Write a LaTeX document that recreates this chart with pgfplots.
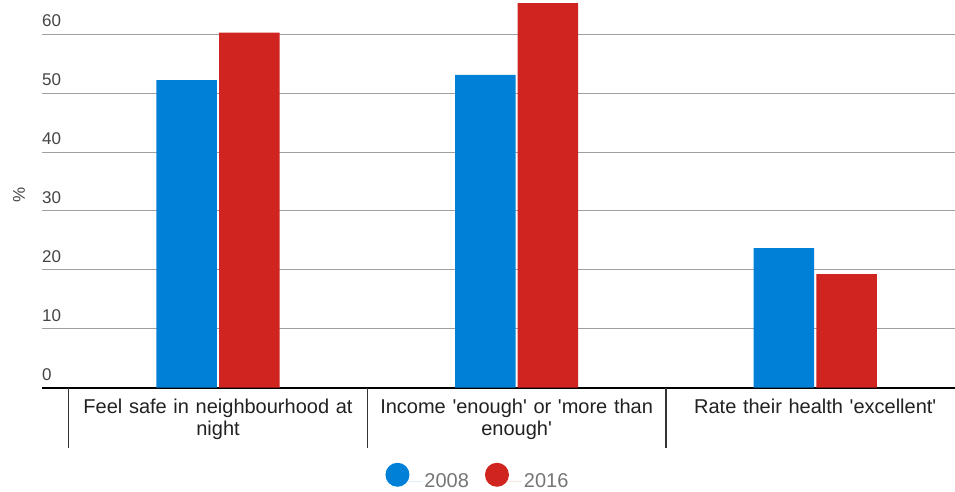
\documentclass[border=0pt]{standalone}
\usepackage{fontspec}
\setmainfont{Liberation Sans}
\usepackage{pgfplots}
\pgfplotsset{compat=1.18}
\definecolor{cblue}{HTML}{0080D6}
\definecolor{cred}{HTML}{D02420}
\definecolor{gridc}{HTML}{A0A0A0}
\definecolor{tickc}{HTML}{444444}
\definecolor{legc}{HTML}{757575}
\begin{document}
\begin{tikzpicture}
\path[use as bounding box] (-42pt,-103.3pt) rectangle (913pt,387.7pt);
\begin{axis}[
  scale only axis, width=913pt, height=387.7pt,
  clip=false,
  xmin=-0.5894, xmax=2.468, ymin=0, ymax=65.82,
  ybar, bar width=60.5pt,
  axis x line*=bottom, axis y line*=left,
  x axis line style={line width=2.2pt, black},
  y axis line style={draw=none},
  xtick={0,1,2},
  xticklabels={{Feel safe in neighbourhood at\\night},{Income \textquotesingle enough\textquotesingle\ or \textquotesingle more than\\enough\textquotesingle},{Rate their health \textquotesingle excellent\textquotesingle}},
  xticklabel style={text width=290pt, align=center, anchor=north, inner sep=0pt, yshift=-11pt, font=\fontsize{20}{22}\selectfont, text=black!87},
  ytick={0,10,...,60},
  /pgf/number format/assume math mode=true,
  yticklabel style={anchor=south west, inner sep=0pt, yshift=7pt, font=\fontsize{17}{20}\selectfont, text=tickc},
  major tick length=0pt,
  ymajorgrids, grid style={gridc, line width=1pt},
  ylabel={\%},
  ylabel style={at={(axis description cs:-0.0252,0.497)}, anchor=center, inner sep=0pt, font=\fontsize{17}{20}\selectfont, text=tickc},
  legend style={draw=none, fill=none, legend columns=-1, at={(0.4775,-0.2304)}, anchor=center, font=\fontsize{20}{22}\selectfont, text=legc, /tikz/every even column/.append style={column sep=14pt}},
  legend image code/.code={\fill[#1] (12pt,6.8pt) circle (12pt); \path (0pt,0pt) -- (37pt,0pt);},
]
\addplot[fill=cblue, draw=none, bar shift=-31.3pt] coordinates {(0,52.2) (1,53.1) (2,23.7)};
\addplot[fill=cred, draw=none, bar shift=31.3pt] coordinates {(0,60.3) (1,65.3) (2,19.3)};
\legend{2008,2016}
\draw[line width=1.3pt, color=black!80] (axis cs:-0.5,0) -- ++(0pt,-60pt);
\draw[line width=1.3pt, color=black!80] (axis cs:0.5,0) -- ++(0pt,-60pt);
\draw[line width=1.3pt, color=black!80] (axis cs:1.5,0) -- ++(0pt,-60pt);
\end{axis}
\end{tikzpicture}
\end{document}
